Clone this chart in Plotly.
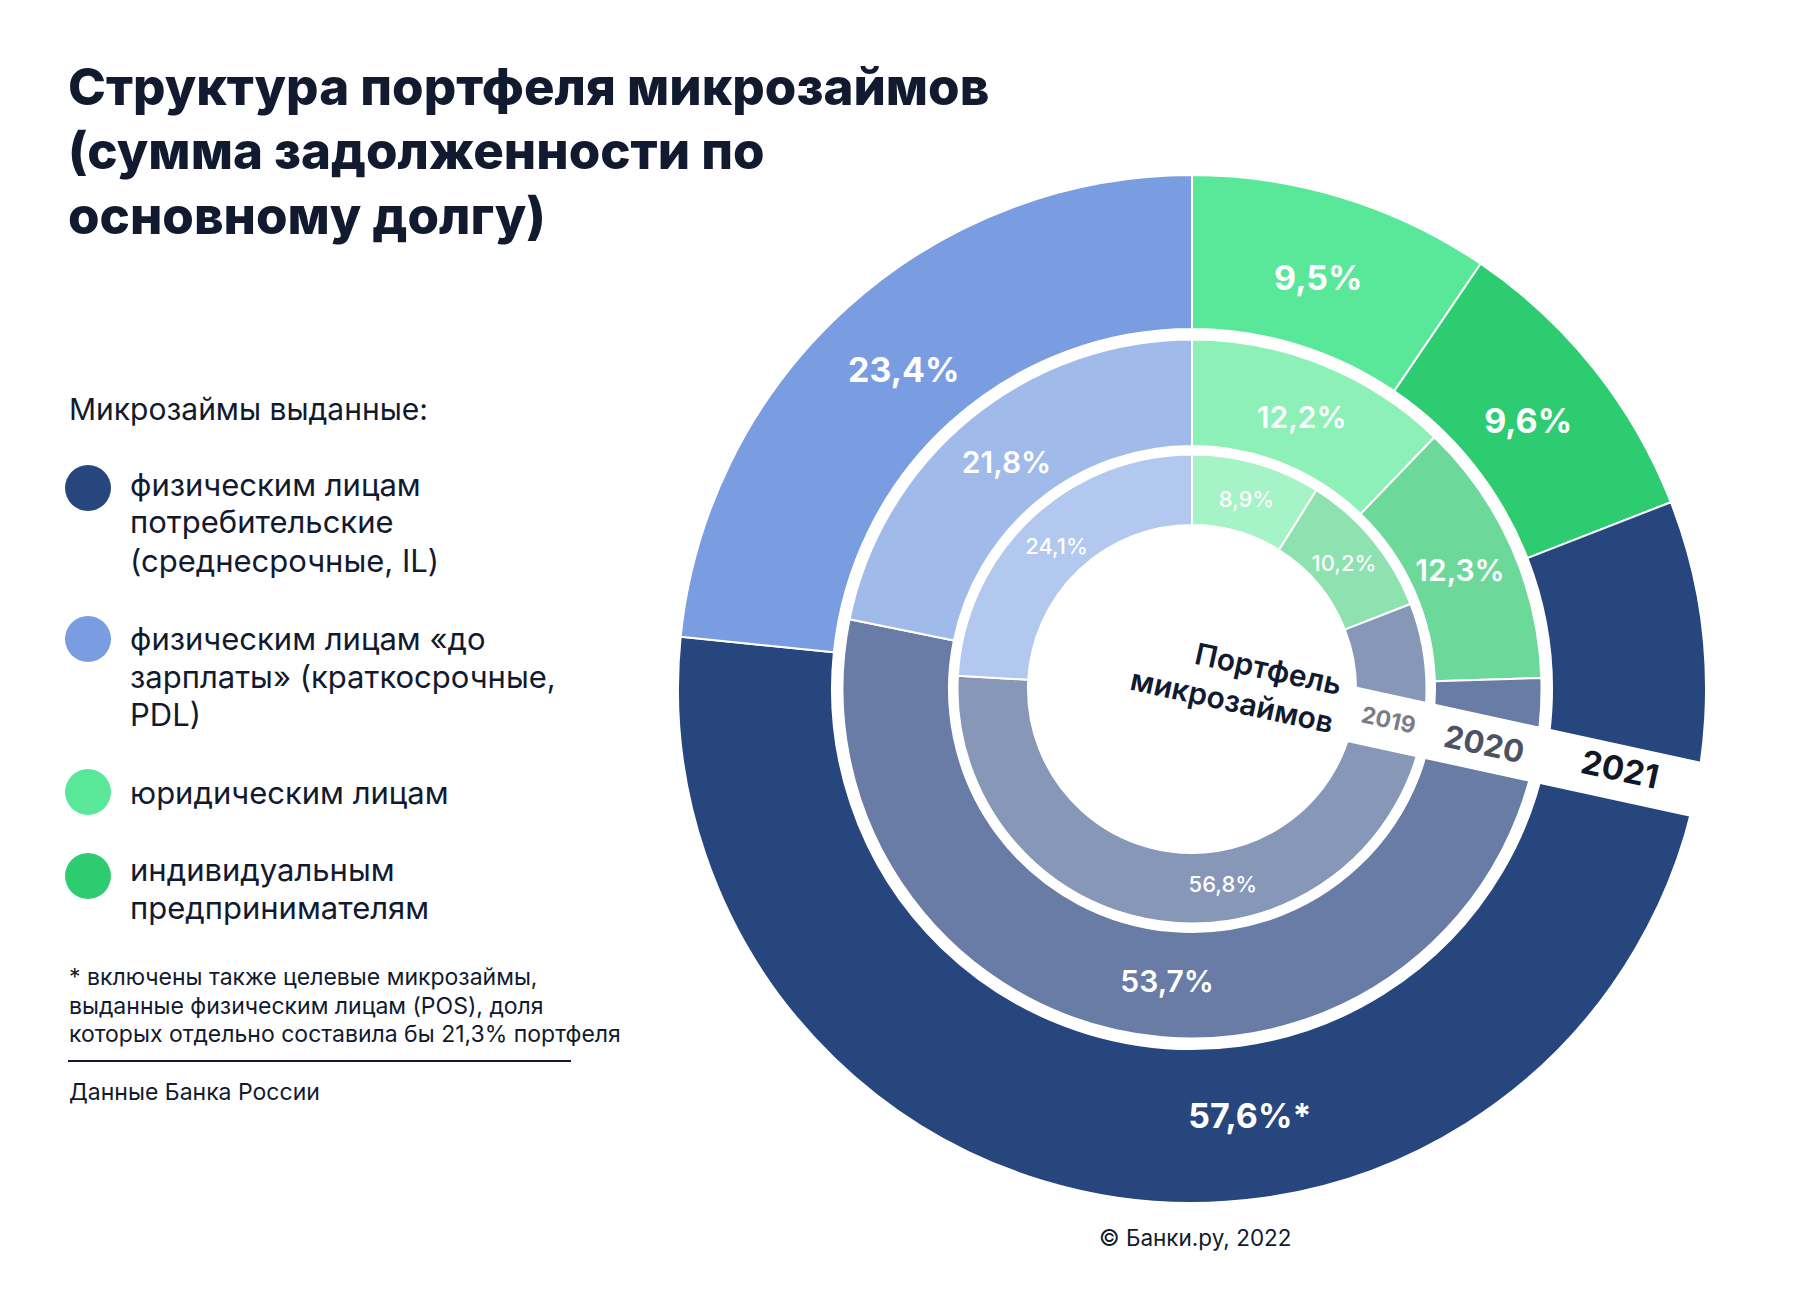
import math
import plotly.graph_objects as go

# ---------------- data ----------------
categories = [
    "юридическим лицам",
    "индивидуальным предпринимателям",
    "физическим лицам потребительские (среднесрочные, IL)",
    "физическим лицам «до зарплаты» (краткосрочные, PDL)",
]
years = ["2019", "2020", "2021"]
values_2019 = [8.9, 10.2, 56.8, 24.1]
values_2020 = [12.2, 12.3, 53.7, 21.8]
values_2021 = [9.5, 9.6, 57.6, 23.4]
label_suffix_2021 = ["", "", "*", ""]

colors_2019 = ["#A6F3C8", "#8EE2B0", "#8797B7", "#B3C8EF"]
colors_2020 = ["#8CF0B7", "#6CD99B", "#687CA5", "#A0BAEA"]
colors_2021 = ["#59E899", "#2ECC71", "#27467E", "#799DE0"]

legend_order = [2, 3, 0, 1]
legend_lines = [
    ["физическим лицам", "потребительские", "(среднесрочные, IL)"],
    ["физическим лицам «до", "зарплаты» (краткосрочные,", "PDL)"],
    ["юридическим лицам"],
    ["индивидуальным", "предпринимателям"],
]
title_lines = ["Структура портфеля микрозаймов", "(сумма задолженности по", "основному долгу)"]
footnote_lines = [
    "* включены также целевые микрозаймы,",
    "выданные физическим лицам (POS), доля",
    "которых отдельно составила бы 21,3% портфеля",
]

# ---------------- layout constants ----------------
W, H = 1800, 1292
OFF = 8  # page body margin compensation
CX, CY = 1192, 689
rings = [  # (values, colors, r_outer, r_inner, label inset, font size, weight, suffix)
    (values_2019, colors_2019, 234.5, 164, 4, 22, 500, None),
    (values_2020, colors_2020, 349.5, 243, 6, 30, 600, None),
    (values_2021, colors_2021, 514, 360, 14, 34, 700, label_suffix_2021),
]
DARK = "#121A30"
FONT = "Inter"


def px(x):
    return (x - OFF) / W


def py(y):
    return 1 - (y - OFF) / H


def fmt(v):
    return f"{v:.1f}%".replace(".", ",")


def domain(r):
    return dict(x=[px(CX - r), px(CX + r)], y=[py(CY + r), py(CY - r)])


fig = go.Figure()
for vals, cols, ro, ri, inset, fs, fw, suffix in rings:
    fig.add_trace(go.Pie(
        labels=categories, values=vals, textinfo="none",
        sort=False, direction="clockwise", rotation=0,
        hole=ri / ro,
        marker=dict(colors=cols, line=dict(color="white", width=2)),
        domain=domain(ro), showlegend=False, hoverinfo="label+percent",
    ))
for vals, cols, ro, ri, inset, fs, fw, suffix in rings:
    texts = [fmt(v) + (suffix[i] if suffix else "") for i, v in enumerate(vals)]
    fig.add_trace(go.Pie(
        labels=categories, values=vals, text=texts,
        textinfo="text", textposition="inside", insidetextorientation="horizontal",
        sort=False, direction="clockwise", rotation=0,
        hole=(ri - inset) / ro,
        marker=dict(colors=["rgba(0,0,0,0)"] * len(vals), line=dict(width=0)),
        textfont=dict(family=FONT, size=fs, color="white", weight=fw),
        domain=domain(ro), showlegend=False, hoverinfo="skip",
    ))

shapes = []
annotations = []


def note(text, x, y, size, weight=400, color=DARK, xanchor="left", **kw):
    annotations.append(dict(text=text, x=px(x), y=py(y), xref="paper", yref="paper",
                            showarrow=False, xanchor=xanchor, yanchor="middle",
                            font=dict(family=FONT, size=size, color=color, weight=weight), **kw))


# white band with year labels
ang = math.radians(12.3)
ux, uy = math.cos(ang), math.sin(ang)
nx, ny = -math.sin(ang), math.cos(ang)
bx0, by0 = CX, 679.5
half_w = 28
pts = []
for t, s in [(60, -1), (640, -1), (640, 1), (60, 1)]:
    pts.append((bx0 + ux * t + nx * half_w * s, by0 + uy * t + ny * half_w * s))
path = "M " + " L ".join(f"{px(x):.5f},{py(y):.5f}" for x, y in pts) + " Z"
shapes.append(dict(type="path", path=path, xref="paper", yref="paper",
                   fillcolor="white", line=dict(width=0), layer="above"))

year_pos = [(1388, 720, 23, "#787D8A"), (1484, 743, 31, "#4B5263"), (1620, 769, 33, "#111827")]
for (xx, yy, fs, col), yr in zip(year_pos, years):
    note(yr, xx, yy, fs, 700, col, xanchor="center", textangle=12.3)

note("Портфель<br>микрозаймов", 1236, 681, 30, 600, DARK, xanchor="center", textangle=12.3, align="right")

# title
for i, line in enumerate(title_lines):
    note(line, 66, 86 + 65 * i, 51, 800)

note("Микрозаймы выданные:", 67, 409, 30)

legend_first_y = [484, 638, 792, 869]
circle_y = [488, 639, 792, 876]
for k, idx in enumerate(legend_order):
    cy = circle_y[k]
    shapes.append(dict(type="circle", xref="paper", yref="paper",
                       x0=px(88 - 23), x1=px(88 + 23), y0=py(cy + 23), y1=py(cy - 23),
                       fillcolor=colors_2021[idx], line=dict(width=0)))
    for j, line in enumerate(legend_lines[k]):
        note(line, 128, legend_first_y[k] + 38 * j, 31)

for j, line in enumerate(footnote_lines):
    note(line, 67, 977 + 28.6 * j, 23)
shapes.append(dict(type="line", xref="paper", yref="paper", x0=px(68), x1=px(571), y0=py(1061), y1=py(1061),
                   line=dict(color=DARK, width=2)))
note("Данные Банка России", 67, 1092, 23)
note("© Банки.ру, 2022", 1195, 1237, 22.5, xanchor="center")

fig.update_layout(
    width=W, height=H,
    margin=dict(l=0, r=0, t=0, b=0),
    paper_bgcolor="white", plot_bgcolor="white",
    shapes=shapes, annotations=annotations,
    font=dict(family=FONT, color=DARK),
)
fig.write_html("out.html")
